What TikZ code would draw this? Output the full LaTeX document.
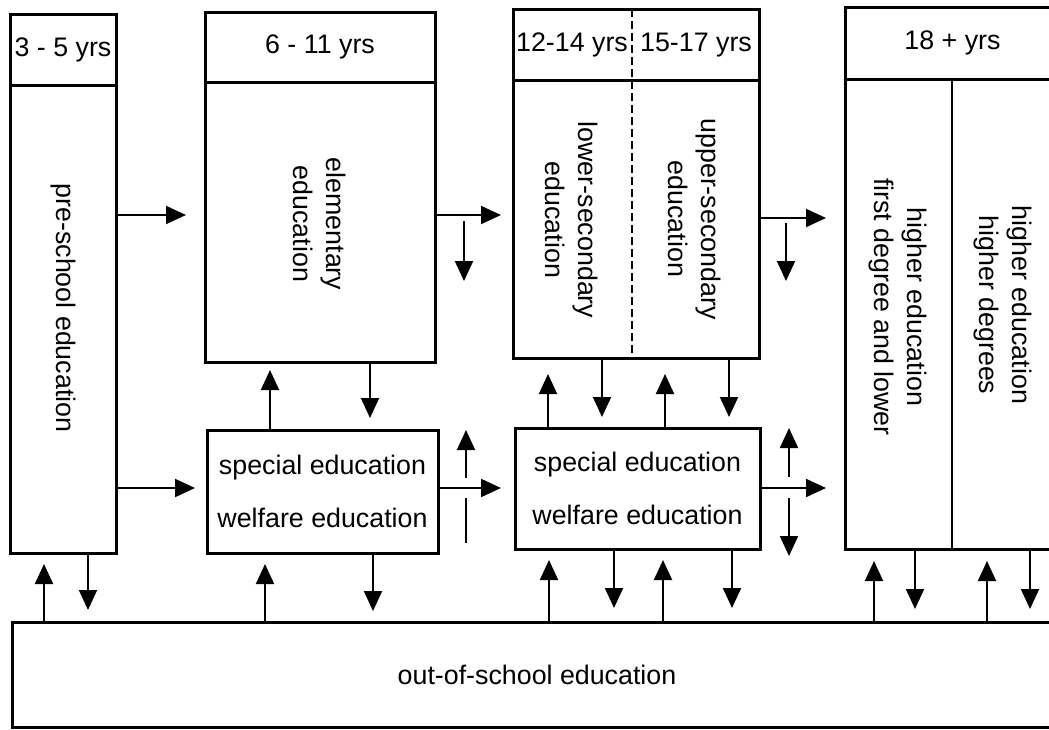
\documentclass[tikz,border=0pt]{standalone}
\usepackage{fontspec}
\setmainfont{Liberation Sans}
\usetikzlibrary{arrows.meta}
\begin{document}
\begin{tikzpicture}[x=1pt,y=-1pt,
  box/.style={draw, line width=3pt, rectangle, anchor=north west, inner sep=0pt, outer sep=0pt, font=\fontsize{26.8}{33}\selectfont},
  spec/.style={box, align=center, font=\fontsize{26.8}{53}\selectfont},
  arr/.style={line width=2pt, -{Triangle[length=20pt,width=18pt]}},
  plain/.style={line width=2pt},
  lbl/.style={font=\fontsize{26.8}{33}\selectfont, align=center, inner sep=0pt},
  rlbl/.style={lbl, rotate=-90},
  divider/.style={line width=2.5pt},
  dashdiv/.style={line width=1.5pt, dash pattern=on 8pt off 4pt}]
\useasboundingbox (0,0) rectangle (1049,729);
\clip (0,0) rectangle (1049,729);

% pre-school
\node[box, minimum width=106pt, minimum height=71pt] (preh) at (10,14) {3 - 5 yrs};
\node[box, minimum width=106pt, minimum height=468pt] (pre) at (10,85) {};
\node[rlbl] (pret) at (63,308) {pre-school education};

% elementary
\node[box, minimum width=230pt, minimum height=70pt] (elemh) at (205,12) {6 - 11 yrs};
\node[box, minimum width=230pt, minimum height=280pt] (elem) at (205,82) {};
\node[rlbl] (elemt) at (320,224) {elementary\\education};

% secondary
\node[box, minimum width=246pt, minimum height=71pt] (sech) at (513,9) {};
\node[box, minimum width=246pt, minimum height=278pt] (sec) at (513,80) {};
\coordinate (dsh) at (632,0);
\draw[dashdiv] (sech.north -| dsh) -- (sec.south -| dsh);
\node[lbl] (h12) at (572,45) {12-14 yrs};
\node[lbl] (h15) at (696,45) {15-17 yrs};
\node[rlbl] (lowt) at (572,220) {lower-secondary\\education};
\node[rlbl] (uppt) at (695,219) {upper-secondary\\education};

% higher
\node[box, minimum width=215pt, minimum height=72pt] (highh) at (845,7) {18 + yrs};
\node[box, minimum width=215pt, minimum height=470pt] (high) at (845,79) {};
\coordinate (hdiv) at (952,0);
\draw[divider] (highh.south -| hdiv) -- (high.south -| hdiv);
\node[rlbl] (h1t) at (898,307) {higher education\\first degree and lower};
\node[rlbl] (h2t) at (1003,305) {higher education\\higher degrees};

% special boxes
\node[spec, minimum width=231pt, minimum height=123pt] (sp1) at (207,430) {special education\\welfare education};
\node[spec, minimum width=245pt, minimum height=121pt] (sp2) at (515,428) {special education\\welfare education};

% out-of-school
\node[box, minimum width=1050pt, minimum height=105pt] (out) at (12,622) {out-of-school education};

% horizontal arrows
\coordinate (t1) at (186,215);
\draw[arr] (t1 -| pre.east) -- (t1);
\coordinate (t2) at (195,488);
\draw[arr] (t2 -| pre.east) -- (t2);
\coordinate (t3) at (501,215);
\draw[arr] (t3 -| elem.east) -- (t3);
\coordinate (t7) at (501,488);
\draw[arr] (t7 -| sp1.east) -- (t7);
\coordinate (t13) at (826,218);
\draw[arr] (t13 -| sec.east) -- (t13);
\coordinate (t14) at (826,488);
\draw[arr] (t14 -| sp2.east) -- (t14);

% free vertical arrows
\coordinate (f1s) at (464,221); \coordinate (f1e) at (464,281);
\draw[arr] (f1s) -- (f1e);
\coordinate (f2s) at (466,478); \coordinate (f2e) at (466,430);
\draw[arr] (f2s) -- (f2e);
\coordinate (f2a) at (466,498); \coordinate (f2b) at (466,543);
\draw[plain] (f2a) -- (f2b);
\coordinate (f3s) at (786,223); \coordinate (f3e) at (786,281);
\draw[arr] (f3s) -- (f3e);
\coordinate (f4s) at (789,477); \coordinate (f4e) at (789,428);
\draw[arr] (f4s) -- (f4e);
\coordinate (f5s) at (789,498); \coordinate (f5e) at (789,556);
\draw[arr] (f5s) -- (f5e);

% elementary <-> special 1
\coordinate (d1) at (370,418);
\draw[arr] (d1 |- elem.south) -- (d1);
\coordinate (u1) at (270,370);
\draw[arr] (u1 |- sp1.north) -- (u1);

% secondary <-> special 2
\coordinate (u2) at (548,374);
\draw[arr] (u2 |- sp2.north) -- (u2);
\coordinate (u3) at (665,374);
\draw[arr] (u3 |- sp2.north) -- (u3);
\coordinate (d2) at (602,417);
\draw[arr] (d2 |- sec.south) -- (d2);
\coordinate (d3) at (729,417);
\draw[arr] (d3 |- sec.south) -- (d3);

% to / from out-of-school
\coordinate (u4) at (44,564);
\draw[arr] (u4 |- out.north) -- (u4);
\coordinate (d4) at (88,610);
\draw[arr] (d4 |- pre.south) -- (d4);
\coordinate (u5) at (265,564);
\draw[arr] (u5 |- out.north) -- (u5);
\coordinate (d5) at (373,611);
\draw[arr] (d5 |- sp1.south) -- (d5);
\coordinate (u6) at (549,560);
\draw[arr] (u6 |- out.north) -- (u6);
\coordinate (u7) at (663,560);
\draw[arr] (u7 |- out.north) -- (u7);
\coordinate (d6) at (614,608);
\draw[arr] (d6 |- sp2.south) -- (d6);
\coordinate (d7) at (732,608);
\draw[arr] (d7 |- sp2.south) -- (d7);
\coordinate (u8) at (874,561);
\draw[arr] (u8 |- out.north) -- (u8);
\coordinate (u9) at (987,561);
\draw[arr] (u9 |- out.north) -- (u9);
\coordinate (d8) at (915,609);
\draw[arr] (d8 |- high.south) -- (d8);
\coordinate (d9) at (1030,609);
\draw[arr] (d9 |- high.south) -- (d9);
\end{tikzpicture}
\end{document}
